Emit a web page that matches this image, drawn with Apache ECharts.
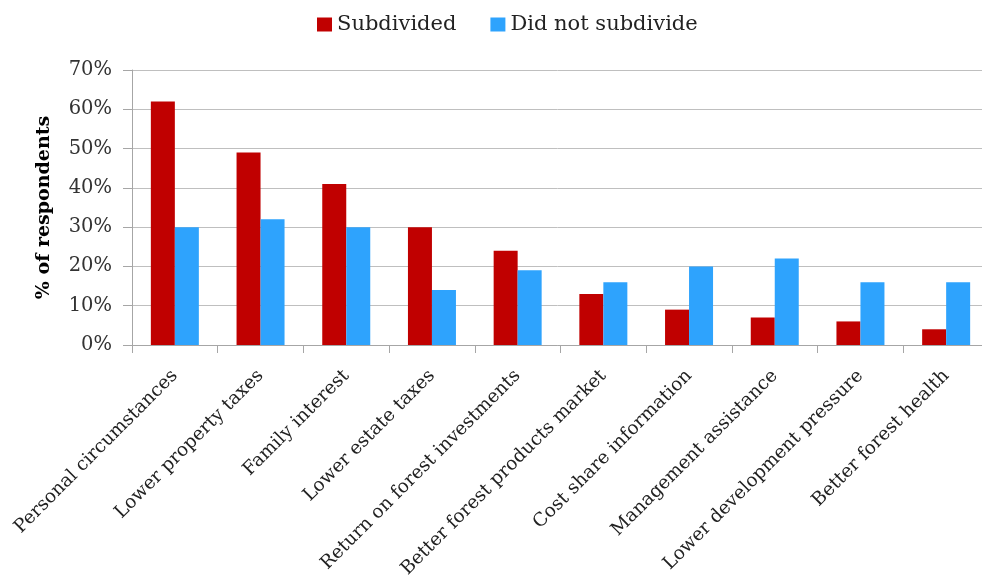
<!DOCTYPE html>
<html>
<head>
<meta charset="utf-8">
<script src="https://cdn.jsdelivr.net/npm/echarts@6/dist/echarts.min.js"></script>
<style>
  html, body { margin: 0; padding: 0; background: #fff; overflow: hidden; }
  #chart { width: 982px; height: 577px; }
</style>
</head>
<body>
<div id="chart"></div>
<script>
const categories = [
  "Personal circumstances",
  "Lower property taxes",
  "Family interest",
  "Lower estate taxes",
  "Return on forest investments",
  "Better forest products market",
  "Cost share information",
  "Management assistance",
  "Lower development pressure",
  "Better forest health",
];
const subdivided = [62, 49, 41, 30, 24, 13, 9, 7, 6, 4];
const didNotSubdivide = [30, 32, 30, 14, 19, 16, 20, 22, 16, 16];
const yTicks = [0, 10, 20, 30, 40, 50, 60, 70];

const FONT = "'DejaVu Serif', 'Liberation Serif', serif";

const chart = echarts.init(document.getElementById("chart"));

chart.setOption({
  animation: false,
  textStyle: { fontFamily: FONT },
  legend: {
    top: 9,
    left: 312,
    itemGap: 34,
    itemWidth: 15,
    itemHeight: 14,
    icon: "rect",
    textStyle: { fontFamily: FONT, fontSize: 21, color: "#222", padding: [2, 0, 0, 0] },
    data: ["Subdivided", "Did not subdivide"],
  },
  // keep the plot where the original has it, even if labels touch the edge
  grid: { left: 132, top: 70, width: 857, height: 275, outerBoundsMode: "none", containLabel: false },
  xAxis: {
    type: "category",
    data: categories,
    axisLine: { lineStyle: { color: "#a6a6a6" } },
    axisTick: { show: true, length: 8, lineStyle: { color: "#a6a6a6" } },
    axisLabel: {
      rotate: 45,
      interval: 0,
      margin: 28,
      fontFamily: FONT,
      fontSize: 18.5,
      color: "#222",
    },
  },
  yAxis: {
    type: "value",
    min: yTicks[0],
    max: yTicks[yTicks.length - 1],
    interval: 10,
    name: "% of respondents",
    nameLocation: "middle",
    nameGap: 78,
    nameTextStyle: { fontFamily: FONT, fontSize: 19, fontWeight: "bold", color: "#000" },
    axisLine: { show: true, lineStyle: { color: "#a6a6a6" } },
    axisTick: { show: true, length: 9, lineStyle: { color: "#a6a6a6" } },
    axisLabel: {
      formatter: "{value}%",
      fontFamily: FONT,
      fontSize: 19.5,
      color: "#333",
      margin: 20,
    },
    splitLine: { lineStyle: { color: "#bfbfbf", width: 1 } },
  },
  series: [
    {
      name: "Subdivided",
      type: "bar",
      data: subdivided,
      barWidth: 24,
      barGap: "0%",
      itemStyle: { color: "#c00000" },
    },
    {
      name: "Did not subdivide",
      type: "bar",
      data: didNotSubdivide,
      barWidth: 24,
      barGap: "0%",
      itemStyle: { color: "#2ea3fd" },
    },
  ],
});
</script>
</body>
</html>
